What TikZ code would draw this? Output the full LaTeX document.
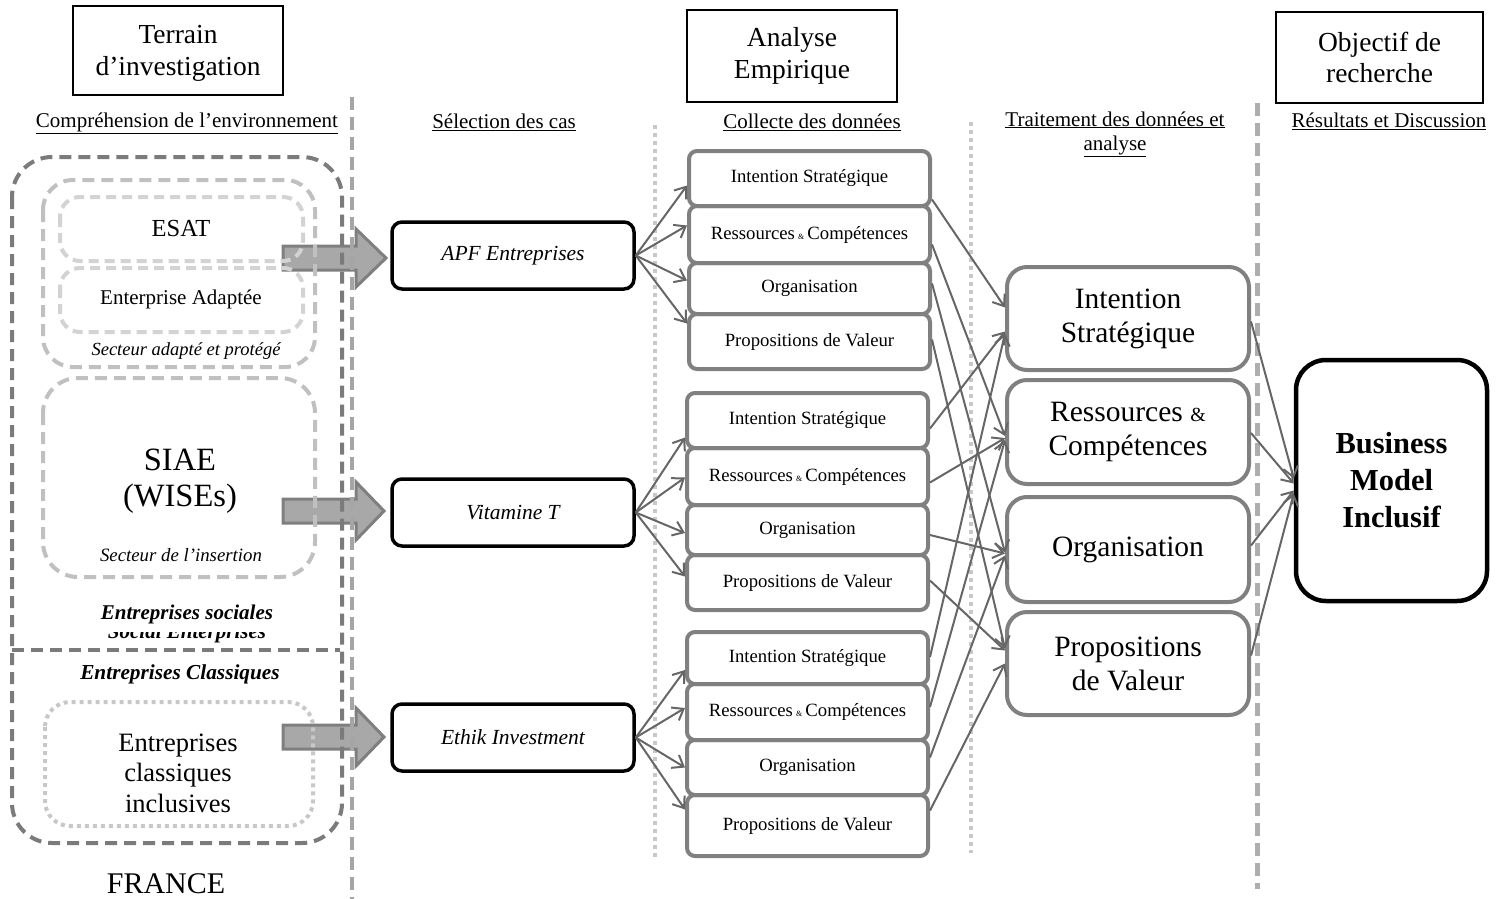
\documentclass[tikz,border=0pt]{standalone}
\usepackage{fontspec}
\setmainfont{Liberation Serif}
\usetikzlibrary{arrows.meta,calc}
\definecolor{outercol}{HTML}{7B7B7B}
\definecolor{lightdash}{HTML}{C0C0C0}
\definecolor{lighterdash}{HTML}{D3D3D3}
\definecolor{dotcol}{HTML}{C8C8C8}
\definecolor{sepcol}{HTML}{A5A5A5}
\definecolor{boxgray}{HTML}{808080}
\definecolor{conncol}{HTML}{666666}
\definecolor{arrfill}{HTML}{A8A8A8}
\definecolor{arrdraw}{HTML}{7F7F7F}
\newcommand{\fsz}[2]{\fontsize{#1}{#2}\selectfont}
\newcommand{\smallamp}{{\fsz{8}{8}\&}}
\begin{document}
\begin{tikzpicture}[x=1pt,y=-1pt,
  hdr/.style={draw=black, line width=2pt, align=center, font=\fsz{27.5}{31.5}, inner sep=0pt},
  sec/.style={font=\fsz{21}{24}, align=center, inner sep=0pt},
  txt/.style={inner sep=0pt, align=center},
  casebox/.style={draw=black, line width=3.5pt, rounded corners=10pt, minimum width=242pt, minimum height=67pt, font=\fsz{21.5}{24}\itshape, inner sep=0pt},
  midbox/.style={draw=boxgray, line width=4pt, rounded corners=8pt, minimum width=241pt, font=\fsz{18.7}{21}, inner sep=0pt},
  rbox/.style={draw=boxgray, line width=4pt, rounded corners=20pt, minimum width=242pt, font=\fsz{29.5}{34}, align=center, inner sep=0pt},
  conn/.style={draw=conncol, line width=2pt, -{Straight Barb[length=10pt,width=15pt]}},
  outerbox/.style={draw=outercol, line width=4pt, dash pattern=on 12pt off 7pt},
  lightbox/.style={draw=lightdash, line width=4pt, dash pattern=on 12pt off 7pt},
  lighterbox/.style={draw=lighterdash, line width=4pt, dash pattern=on 10pt off 6pt},
  dotbox/.style={draw=dotcol, line width=4pt, dash pattern=on 4pt off 4pt},
  dashsep/.style={draw=sepcol, line width=4pt, dash pattern=on 13pt off 7pt},
  dotsep/.style={draw=dotcol, line width=4pt, dash pattern=on 4pt off 4pt},
  barrow/.style={fill=arrfill, draw=arrdraw, line width=3pt, line join=miter}
]
\useasboundingbox (0,0) rectangle (1504,899);

% block arrows (drawn first, lines pass over them)
\foreach \yy/\tx in {258/386, 511/384, 737/384}{
  \draw[barrow] (283,\yy-12) -- (356,\yy-12) -- (356,\yy-29) -- (\tx,\yy) -- (356,\yy+29) -- (356,\yy+12) -- (283,\yy+12) -- cycle;
}

% separators
\coordinate (sepAtop) at (352,97);   \coordinate (sepAbot) at (352,899);
\coordinate (sepBtop) at (655,125);  \coordinate (sepBbot) at (655,857);
\coordinate (sepCtop) at (971,122);  \coordinate (sepCbot) at (971,853);
\coordinate (sepDtop) at (1257,103); \coordinate (sepDbot) at (1257,889);
\draw[dashsep] (sepAtop) -- (sepAbot);
\draw[dotsep] (sepBtop) -- (sepBbot);
\draw[dotsep] (sepCtop) -- (sepCbot);
\draw[dashsep, draw=sepcol!90!white, line width=5pt] (sepDtop) -- (sepDbot);

% headers
\node[hdr, minimum width=210pt, minimum height=89pt, text depth=-4pt] (h1) at (178,50.5) {Terrain\\d’investigation};
\node[hdr, minimum width=210pt, minimum height=92pt] (h2) at (792,56) {Analyse\\Empirique};
\node[hdr, minimum width=207pt, minimum height=91pt] (h3) at (1379.5,57.5) {Objectif de\\recherche};

% section labels
\node[sec] (s1) at (187,123) {\underline{Compréhension de l’environnement}};
\node[sec] (s2) at (504,122) {\underline{Sélection des cas}};
\node[sec] (s3) at (812,122) {\underline{Collecte des données}};
\node[sec] (s4) at (1115,134) {\underline{Traitement des données et}\\\underline{analyse}};
\node[sec] (s5) at (1389,121) {\underline{Résultats et Discussion}};

% left region
\draw[outerbox, rounded corners=40pt] (12,157) rectangle (342,843);
\draw[outerbox] (12,650) -- (340,650);
\draw[lightbox, rounded corners=30pt] (43,180) rectangle (315,367);
\draw[lighterbox, rounded corners=20pt] (60,197) rectangle (303,261);
\draw[lighterbox, rounded corners=20pt] (60,268) rectangle (303,332);
\draw[lightbox, rounded corners=35pt] (43,378) rectangle (315,577);
\draw[dotbox, rounded corners=25pt] (45,702) rectangle (313,826);

\node[txt, font=\fsz{24.5}{28}] (esat) at (181,229) {ESAT};
\node[txt, font=\fsz{21}{24}] (ea) at (181,299) {Enterprise Adaptée};
\node[txt, font=\fsz{18.5}{21}\itshape] (sap) at (186,351) {Secteur adapté et protégé};
\node[txt, font=\fsz{32.5}{36}] (siae) at (180,481) {SIAE\\(WISEs)};
\node[txt, font=\fsz{18.8}{21}\itshape] (sdi) at (181,555) {Secteur de l’insertion};
\begin{scope}
  \clip (90,632) rectangle (290,645);
  \node[txt, font=\fsz{21}{24}\bfseries\itshape, anchor=base] (soc) at (187,638) {Social Enterprises};
\end{scope}
\node[txt, font=\fsz{21}{24}\bfseries\itshape] (es) at (187,614) {Entreprises sociales};
\node[txt, font=\fsz{21.3}{24}\bfseries\itshape] (ec) at (180,674) {Entreprises Classiques};
\node[txt, font=\fsz{26.5}{30.5}] (eci) at (178,773) {Entreprises\\classiques\\inclusives};
\node[txt, font=\fsz{30}{32}] (fr) at (166,884) {FRANCE};

% case boxes
\node[casebox] (apf) at (513,255.5) {APF Entreprises};
\node[casebox] (vit) at (513,512.5) {Vitamine T};
\node[casebox] (eth) at (513,737.5) {Ethik Investment};

% middle boxes group 1
\node[midbox, minimum height=55pt] (a1) at (809.5,178.5) {Intention Stratégique};
\node[midbox, minimum height=57pt] (a2) at (809.5,234.5) {Ressources\,\smallamp\,Compétences};
\node[midbox, minimum height=51pt] (a3) at (809.5,288.5) {Organisation};
\node[midbox, minimum height=55pt] (a4) at (809.5,341.5) {Propositions de Valeur};
% group 2
\node[midbox, minimum height=55pt] (b1) at (807.5,420.5) {Intention Stratégique};
\node[midbox, minimum height=57pt] (b2) at (807.5,476.5) {Ressources\,\smallamp\,Compétences};
\node[midbox, minimum height=50pt] (b3) at (807.5,530) {Organisation};
\node[midbox, minimum height=55pt] (b4) at (807.5,582.5) {Propositions de Valeur};
% group 3
\node[midbox, minimum height=52pt] (c1) at (807.5,658) {Intention Stratégique};
\node[midbox, minimum height=56pt] (c2) at (807.5,712) {Ressources\,\smallamp\,Compétences};
\node[midbox, minimum height=55pt] (c3) at (807.5,767.5) {Organisation};
\node[midbox, minimum height=61pt] (c4) at (807.5,825.5) {Propositions de Valeur};

% right boxes
\node[rbox, minimum height=103pt] (r1) at (1128,318.5) {Intention\\Stratégique};
\node[rbox, minimum height=104pt] (r2) at (1128,432) {Ressources {\fsz{20}{20}\&}\\Compétences};
\node[rbox, minimum height=105pt] (r3) at (1128,549.5) {Organisation};
\node[rbox, minimum height=103pt] (r4) at (1128,663.5) {Propositions\\de Valeur};

% final box
\node[draw=black, line width=4.5pt, rounded corners=30pt, minimum width=191pt, minimum height=241pt, font=\fsz{30.5}{37}\bfseries, align=center, inner sep=0pt] (bmi) at (1391.5,480.5) {Business\\Model\\Inclusif};

% case -> collect
\foreach \c/\g/\o in {apf/a/{7,-9,-8,-18}, vit/b/{17,1,3,-6}, eth/c/{12,-4,0,-16}}{
  \foreach \off [count=\i] in \o {
    \draw[conn] (\c.east) -- ($(\g\i.west)+(0,\off)$);
  }
}

% collect -> analysis
\draw[conn] ($(a1.east)+(0,21)$) -- ($(r1.west)+(0,-11)$);
\draw[conn] ($(a2.east)+(0,10)$) -- ($(r2.west)+(0,4)$);
\draw[conn] ($(a3.east)+(0,-5)$) -- ($(r3.west)+(0,3)$);
\draw[conn] ($(a4.east)+(0,-2)$) -- ($(r4.west)+(0,-15)$);
\draw[conn] ($(b1.east)+(0,8)$) -- ($(r1.west)+(0,13)$);
\draw[conn] ($(b2.east)+(0,6)$) -- ($(r2.west)+(0,6)$);
\draw[conn] ($(b3.east)+(0,5)$) -- ($(r3.west)+(0,4)$);
\draw[conn] ($(b4.east)+(0,-2)$) -- ($(r4.west)+(0,-13)$);
\draw[conn] ($(c1.east)+(0,-1)$) -- ($(r1.west)+(0,15)$);
\draw[conn] ($(c2.east)+(0,-5)$) -- ($(r2.west)+(0,8)$);
\draw[conn] ($(c3.east)+(0,-10)$) -- ($(r3.west)+(0,6)$);
\draw[conn] ($(c4.east)+(0,-15)$) -- ($(r4.west)+(0,0)$);

% analysis -> result
\draw[conn] ($(r1.east)+(0,3)$) -- ($(bmi.west)+(0,-2)$);
\draw[conn] ($(r2.east)+(0,1)$) -- ($(bmi.west)+(0,3)$);
\draw[conn] ($(r3.east)+(0,-4)$) -- ($(bmi.west)+(0,10)$);
\draw[conn] ($(r4.east)+(0,-8)$) -- ($(bmi.west)+(0,13)$);
\end{tikzpicture}
\end{document}
